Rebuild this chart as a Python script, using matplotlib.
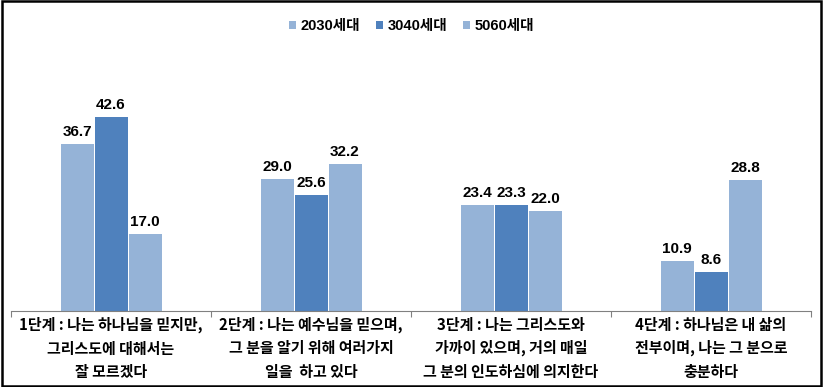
import matplotlib
matplotlib.use("Agg")
import matplotlib.pyplot as plt
from matplotlib.patches import Rectangle
import numpy as np

plt.rcParams['font.family'] = ['Noto Sans CJK KR', 'DejaVu Sans']

categories = [
    "1단계 : 나는 하나님을 믿지만,\n그리스도에 대해서는\n잘 모르겠다",
    "2단계 : 나는 예수님을 믿으며,\n그 분을 알기 위해 여러가지\n일을  하고 있다",
    "3단계 : 나는 그리스도와\n가까이 있으며, 거의 매일\n그 분의 인도하심에 의지한다",
    "4단계 : 하나님은 내 삶의\n전부이며, 나는 그 분으로\n충분하다",
]
series_names = ["2030세대", "3040세대", "5060세대"]
v2030 = [36.7, 29.0, 23.4, 10.9]
v3040 = [42.6, 25.6, 23.3, 8.6]
v5060 = [17.0, 32.2, 22.0, 28.8]
colors = ["#95B3D7", "#4F81BD", "#95B3D7"]

fig = plt.figure(figsize=(8.23, 3.87), dpi=100)
ax = fig.add_axes([11/823, 1 - 311/387, 800/823, (311 - 83.5)/387])

x = np.arange(len(categories))
w = 0.165
step = 0.17
for i, (vals, name, c) in enumerate(zip([v2030, v3040, v5060], series_names, colors)):
    pos = x + (i - 1) * step
    bars = ax.bar(pos, vals, width=w, color=c, label=name)
    for b, v in zip(bars, vals):
        ax.text(b.get_x() + b.get_width()/2, v + 1.1, f"{v:.1f}", ha='center', va='bottom',
                fontsize=11, fontweight='bold', color='#000000',
                family=['Liberation Sans', 'Noto Sans CJK KR'])

ax.set_xlim(-0.5, len(categories) - 0.5)
ax.set_ylim(0, 50)
for s in ['top', 'right', 'left']:
    ax.spines[s].set_visible(False)
ax.spines['bottom'].set_color('#808080')
ax.set_yticks([])
ax.set_xticks(np.arange(-0.5, len(categories)), minor=False)
ax.set_xticklabels([])
ax.tick_params(axis='x', direction='out', length=4, color='#808080')
for xi, lab in zip(x, categories):
    ax.text(xi, -1.3, lab, ha='center', va='top', fontsize=10.8, fontweight='bold',
            linespacing=1.55, transform=ax.transData)

leg = fig.legend(loc='upper center', bbox_to_anchor=(0.5, 0.985), ncol=3, frameon=False,
                 prop={'size': 10.5, 'weight': 'bold', 'family': ['Liberation Sans', 'Noto Sans CJK KR']},
                 handlelength=0.5, handleheight=0.5,
                 handletextpad=0.3, columnspacing=1.1)

fig.patches.append(Rectangle((0.002, 0.003), 0.996, 0.994, transform=fig.transFigure,
                             fill=False, edgecolor='black', linewidth=1.8))

fig.savefig("out.png", dpi=100)
